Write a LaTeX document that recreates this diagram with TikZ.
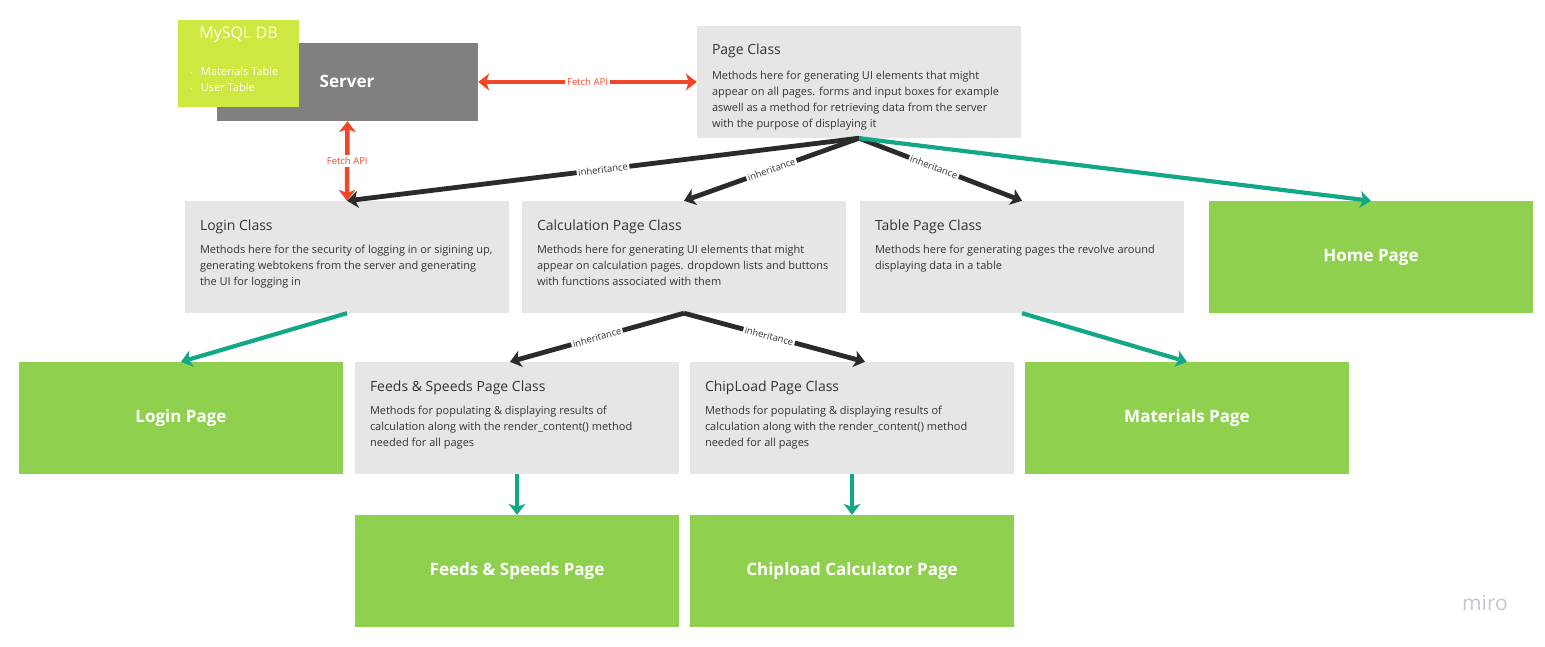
\documentclass[tikz,border=0pt]{standalone}
\usepackage{fontspec}
\setmainfont{Open Sans}
\usetikzlibrary{arrows.meta}

\definecolor{boxgrey}{HTML}{E6E6E6}
\definecolor{servergrey}{HTML}{808080}
\definecolor{dblime}{HTML}{CEE741}
\definecolor{pagegreen}{HTML}{8FD14F}
\definecolor{textgrey}{HTML}{333333}
\definecolor{inhblack}{HTML}{2B2B2B}
\definecolor{flowteal}{HTML}{12A787}
\definecolor{fetchred}{HTML}{F24726}
\definecolor{mirogrey}{HTML}{C4C6D1}

\tikzset{
	classbox/.style={fill=boxgrey, minimum width=324pt, minimum height=112pt, inner sep=0pt},
	pagebox/.style={fill=pagegreen, minimum width=324pt, minimum height=112pt, inner sep=0pt,
		text=white, font=\fontsize{17}{20}\selectfont\bfseries},
	ctitle/.style={anchor=west, inner sep=0pt, text=textgrey, font=\fontsize{14}{17}\selectfont},
	cbody/.style={anchor=north west, inner sep=0pt, align=left, text=textgrey, font=\fontsize{11}{16}\selectfont},
	inh/.style={draw=inhblack, line width=4.8pt, -{Stealth[length=11pt, width=17pt, inset=3pt, line width=0pt]}},
	flow/.style={draw=flowteal, line width=4.2pt, -{Stealth[length=11pt, width=17pt, inset=3pt, line width=0pt]}},
	fetch/.style={draw=fetchred, line width=4.5pt, {Stealth[length=11pt, width=17pt, inset=3pt, line width=0pt]}-{Stealth[length=11pt, width=17pt, inset=3pt, line width=0pt]}},
	inhlabel/.style={midway, sloped, fill=white, inner sep=1.5pt, text=textgrey, font=\fontsize{9.5}{9.5}\selectfont},
	fetchlabel/.style={midway, fill=white, inner sep=2pt, text=fetchred, font=\fontsize{9.5}{9.5}\selectfont},
}

\begin{document}
\begin{tikzpicture}[x=1pt, y=-1pt]
	\useasboundingbox (0,0) rectangle (1545,647);

	% server and database
	\node [fill=servergrey, minimum width=261pt, minimum height=78pt, inner sep=0pt] (server) at (347.5,82) {};
	\node [text=white, font=\fontsize{17}{20}\selectfont\bfseries] (servertxt) at (347,81) {Server};
	\node [fill=dblime, minimum width=121pt, minimum height=87pt, inner sep=0pt] (db) at (238.5,63.5) {};
	\node [text=white, font=\fontsize{16}{18}\selectfont] (dbtitle) at (238.5,35) {MySQL DB};
	\node [anchor=west, inner sep=0pt, text=white, font=\fontsize{11}{16}\selectfont, align=left] (dbitems) at (190,79)
		{{\fontsize{6}{6}\selectfont•}\hspace{8.5pt}Materials Table\\{\fontsize{6}{6}\selectfont•}\hspace{8.5pt}User Table};

	% classes
	\node [classbox] (page) at (859,82) {};
	\node [ctitle] (pagetitle) at ([shift={(15,25)}]page.north west) {Page Class};
	\node [cbody] (pagebody) at ([shift={(15,45)}]page.north west)
		{Methods here for generating UI elements that might\\appear on all pages. forms and input boxes for example\\aswell as a method for retrieving data from the server\\with the purpose of displaying it};

	\node [classbox] (login) at (347,257) {};
	\node [ctitle] (logintitle) at ([shift={(15,26)}]login.north west) {Login Class};
	\node [cbody] (loginbody) at ([shift={(15,44)}]login.north west)
		{Methods here for the security of logging in or sigining up,\\generating webtokens from the server and generating\\the UI for logging in};

	\node [classbox] (calc) at (684,257) {};
	\node [ctitle] (calctitle) at ([shift={(15,26)}]calc.north west) {Calculation Page Class};
	\node [cbody] (calcbody) at ([shift={(15,44)}]calc.north west)
		{Methods here for generating UI elements that might\\appear on calculation pages. dropdown lists and buttons\\with functions associated with them};

	\node [classbox] (table) at (1022,257) {};
	\node [ctitle] (tabletitle) at ([shift={(15,26)}]table.north west) {Table Page Class};
	\node [cbody] (tablebody) at ([shift={(15,44)}]table.north west)
		{Methods here for generating pages the revolve around\\displaying data in a table};

	\node [classbox] (feedscls) at (517,418) {};
	\node [ctitle] (feedstitle) at ([shift={(15,26)}]feedscls.north west) {Feeds \& Speeds Page Class};
	\node [cbody] (feedsbody) at ([shift={(15,44)}]feedscls.north west)
		{Methods for populating \& displaying results of\\calculation along with the render\_content() method\\needed for all pages};

	\node [classbox] (chipcls) at (852,418) {};
	\node [ctitle] (chiptitle) at ([shift={(15,26)}]chipcls.north west) {ChipLoad Page Class};
	\node [cbody] (chipbody) at ([shift={(15,44)}]chipcls.north west)
		{Methods for populating \& displaying results of\\calculation along with the render\_content() method\\needed for all pages};

	% pages
	\node [pagebox] (homepg) at (1371,257) {Home Page};
	\node [pagebox] (loginpg) at (181,418) {Login Page};
	\node [pagebox] (matpg) at (1187,418) {Materials Page};
	\node [pagebox] (feedspg) at (517,571) {Feeds \& Speeds Page};
	\node [pagebox] (chippg) at (852,571) {Chipload Calculator Page};

	% fetch api
	\draw [fetch] (server.east) -- node[fetchlabel] {Fetch API} (page.west);
	\draw [fetch] (server.south) -- node[fetchlabel] {Fetch API} (login.north);

	% inheritance
	\draw [inh] (page.south) -- node[inhlabel] {inheritance} (login.north);
	\draw [inh] (page.south) -- node[inhlabel] {inheritance} (calc.north);
	\draw [inh] (page.south) -- node[inhlabel, pos=0.46] {inheritance} (table.north);
	\draw [inh] (calc.south) -- node[inhlabel] {inheritance} ([xshift=-7pt]feedscls.north);
	\draw [inh] (calc.south) -- node[inhlabel, pos=0.47] {inheritance} ([xshift=13pt]chipcls.north);

	% to pages
	\draw [flow] (page.south) -- (homepg.north);
	\draw [flow] (login.south) -- (loginpg.north);
	\draw [flow] (table.south) -- (matpg.north);
	\draw [flow] (feedscls.south) -- (feedspg.north);
	\draw [flow] (chipcls.south) -- (chippg.north);

	\node [text=mirogrey, font=\fontsize{21}{24}\selectfont] (miro) at (1485,603) {miro};
\end{tikzpicture}
\end{document}
